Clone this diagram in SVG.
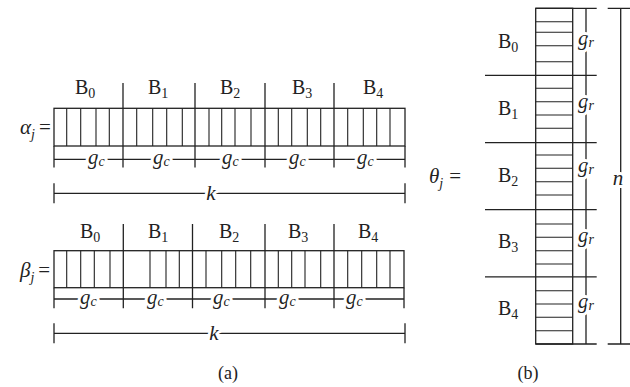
<svg xmlns="http://www.w3.org/2000/svg" width="630" height="387" viewBox="0 0 630 387">
<style>
  .ln { stroke: #222; stroke-width: 1.3; fill: none; }
  .st { stroke: #222; stroke-width: 1.1; fill: none; }
  .t { font-family: "Liberation Serif", "DejaVu Serif", serif; font-size: 20px; fill: #222; }
  .mi { font-family: "Liberation Serif", "DejaVu Serif", serif; font-style: italic; font-size: 21px; fill: #222; }
  .gap { stroke: #fff; stroke-width: 6; paint-order: stroke; stroke-linejoin: round; }
  .sub { font-size: 14px; }
  .cap { font-family: "Liberation Serif", "DejaVu Serif", serif; font-size: 18px; fill: #222; }
</style>

<!-- Panel (a), alpha row -->
<g id="alpha-row">
  <g id="alpha-blocks">
    <rect class="ln" x="54" y="108.3" width="351" height="37.7"/>
    <path class="ln" d="M54 146V167.5M405 146V167.5M123 83V167.5M195 83V167.5M265 83V167.5M334 83V167.5"/>
    <path class="st" d="M66.7 108.3V146M80.7 108.3V146M96 108.3V146M109.3 108.3V146
      M136.7 108.3V146M152.7 108.3V146M166.7 108.3V146M182.3 108.3V146
      M209 108.3V146M221.7 108.3V146M235 108.3V146M251 108.3V146
      M278.3 108.3V146M291.7 108.3V146M307.3 108.3V146M320.7 108.3V146
      M347.7 108.3V146M363.3 108.3V146M376.7 108.3V146M390 108.3V146"/>
  </g>
  <g id="alpha-labels">
    <text class="t" x="75" y="94">B<tspan class="sub" dy="4">0</tspan></text>
    <text class="t" x="148" y="94">B<tspan class="sub" dy="4">1</tspan></text>
    <text class="t" x="220" y="94">B<tspan class="sub" dy="4">2</tspan></text>
    <text class="t" x="292" y="94">B<tspan class="sub" dy="4">3</tspan></text>
    <text class="t" x="363" y="94">B<tspan class="sub" dy="4">4</tspan></text>
    <text class="mi" x="20" y="134">α<tspan class="sub" dy="5">j</tspan><tspan font-style="normal" dx="4" dy="-5">=</tspan></text>
  </g>
  <g id="alpha-dims">
    <path class="ln" d="M54 159.3H405"/>
    <text class="mi gap" x="88" y="164">g<tspan class="sub" dy="2">c</tspan></text>
    <text class="mi gap" x="153" y="164">g<tspan class="sub" dy="2">c</tspan></text>
    <text class="mi gap" x="222" y="164">g<tspan class="sub" dy="2">c</tspan></text>
    <text class="mi gap" x="289" y="164">g<tspan class="sub" dy="2">c</tspan></text>
    <text class="mi gap" x="357" y="164">g<tspan class="sub" dy="2">c</tspan></text>
    <path class="ln" d="M54 193.3H405M54 183.3V203.3M405 183.3V203.3"/>
    <text class="mi gap" x="211" y="200" text-anchor="middle">k</text>
  </g>
</g>

<!-- Panel (a), beta row -->
<g id="beta-row">
  <g id="beta-blocks">
    <rect class="ln" x="54" y="250.7" width="350" height="37"/>
    <path class="ln" d="M54 287.7V308.3M404 287.7V308.3M123.3 224V308.3M192.5 224V308.3M265 224V308.3M334 224V308.3"/>
    <path class="st" d="M66.7 250.7V287.7M80.7 250.7V287.7M94.3 250.7V287.7M110 250.7V287.7
      M150 250.7V287.7M166 250.7V287.7M179.3 250.7V287.7
      M206 250.7V287.7M221.7 250.7V287.7M235.7 250.7V287.7M250.7 250.7V287.7
      M278.3 250.7V287.7M291.7 250.7V287.7M305 250.7V287.7M320.7 250.7V287.7
      M347.7 250.7V287.7M361.7 250.7V287.7M376.7 250.7V287.7M390 250.7V287.7"/>
  </g>
  <g id="beta-labels">
    <text class="t" x="80" y="238">B<tspan class="sub" dy="4">0</tspan></text>
    <text class="t" x="148" y="238">B<tspan class="sub" dy="4">1</tspan></text>
    <text class="t" x="219" y="238">B<tspan class="sub" dy="4">2</tspan></text>
    <text class="t" x="288" y="238">B<tspan class="sub" dy="4">3</tspan></text>
    <text class="t" x="358" y="238">B<tspan class="sub" dy="4">4</tspan></text>
    <text class="mi" x="20" y="277">β<tspan class="sub" dy="5">j</tspan><tspan font-style="normal" dx="4" dy="-5">=</tspan></text>
  </g>
  <g id="beta-dims">
    <path class="ln" d="M54 299H404"/>
    <text class="mi gap" x="80" y="304">g<tspan class="sub" dy="2">c</tspan></text>
    <text class="mi gap" x="147" y="304">g<tspan class="sub" dy="2">c</tspan></text>
    <text class="mi gap" x="213" y="304">g<tspan class="sub" dy="2">c</tspan></text>
    <text class="mi gap" x="279" y="304">g<tspan class="sub" dy="2">c</tspan></text>
    <text class="mi gap" x="346" y="304">g<tspan class="sub" dy="2">c</tspan></text>
    <path class="ln" d="M54 333.3H405M54 323.3V343.3M405 323.3V343.3"/>
    <text class="mi gap" x="214" y="340" text-anchor="middle">k</text>
  </g>
</g>

<text class="cap" x="228" y="379" text-anchor="middle">(a)</text>

<!-- Panel (b), theta column -->
<g id="theta-col">
  <g id="theta-blocks">
    <rect class="ln" x="535.7" y="8.3" width="37" height="335.7"/>
    <path class="ln" d="M535.7 8.3H596.7M535.7 344H596.7M586 8.3V344
      M485 75.4H596.7M485 142.6H596.7M485 209.7H596.7M485 276.9H596.7"/>
    <path class="st" d="M535.7 21.7H572.7M535.7 32.3H572.7M535.7 45.7H572.7M535.7 61.7H572.7
      M535.7 88.3H572.7M535.7 101.7H572.7M535.7 115H572.7M535.7 128.3H572.7
      M535.7 155H572.7M535.7 168.3H572.7M535.7 181.7H572.7M535.7 195H572.7
      M535.7 224H572.7M535.7 237.3H572.7M535.7 250.7H572.7M535.7 264H572.7
      M535.7 290.7H572.7M535.7 304H572.7M535.7 317.3H572.7M535.7 330.7H572.7"/>
  </g>
  <g id="theta-labels">
    <text class="t" x="498" y="48">B<tspan class="sub" dy="4">0</tspan></text>
    <text class="t" x="498" y="115">B<tspan class="sub" dy="4">1</tspan></text>
    <text class="t" x="498" y="182">B<tspan class="sub" dy="4">2</tspan></text>
    <text class="t" x="498" y="248">B<tspan class="sub" dy="4">3</tspan></text>
    <text class="t" x="498" y="315">B<tspan class="sub" dy="4">4</tspan></text>
    <text class="mi" x="429" y="183">θ<tspan class="sub" dy="5">j</tspan><tspan font-style="normal" dx="6" dy="-5">=</tspan></text>
  </g>
  <g id="theta-dims">
    <text class="mi gap" x="578" y="45">g<tspan class="sub" dy="2">r</tspan></text>
    <text class="mi gap" x="578" y="108">g<tspan class="sub" dy="2">r</tspan></text>
    <text class="mi gap" x="578" y="172">g<tspan class="sub" dy="2">r</tspan></text>
    <text class="mi gap" x="578" y="242">g<tspan class="sub" dy="2">r</tspan></text>
    <text class="mi gap" x="578" y="308">g<tspan class="sub" dy="2">r</tspan></text>
    <path class="ln" d="M607.7 8.3H630M607.7 344H630M620.7 8.3V344"/>
    <text class="mi gap" x="618" y="185" text-anchor="middle">n</text>
  </g>
</g>

<text class="cap" x="528" y="379" text-anchor="middle">(b)</text>
</svg>
